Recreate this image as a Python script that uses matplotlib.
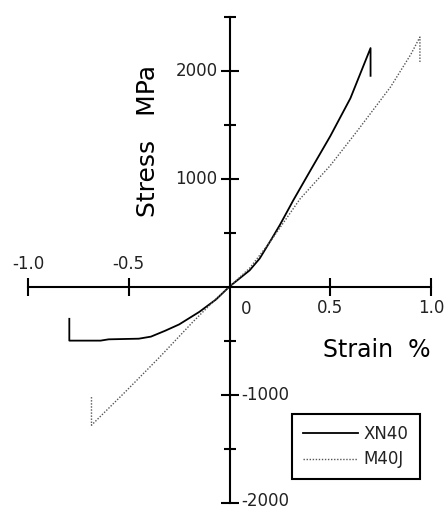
"""Stress-strain curves of XN40 and M40J fibres, axes crossing at the origin."""

import matplotlib

matplotlib.use("Agg")
import matplotlib.pyplot as plt
from matplotlib.ticker import FixedLocator

# strain (%) / stress (MPa)
xn40_strain = [-0.795, -0.795, -0.64, -0.60, -0.45, -0.39, -0.32, -0.25, -0.15, -0.067, 0.0,
               0.05, 0.10, 0.15, 0.21, 0.25, 0.317, 0.40, 0.50, 0.60, 0.70, 0.70]
xn40_stress = [-299, -501, -501, -489, -483, -464, -410, -351, -235, -120, 0,
               75, 150, 260, 444, 570, 800, 1070, 1392, 1743, 2208, 1951]

m40j_strain = [-0.685, -0.685, -0.517, -0.35, -0.183, -0.07, 0.0,
               0.10, 0.20, 0.35, 0.50, 0.633, 0.80, 0.90, 0.945, 0.945]
m40j_stress = [-1024, -1284, -975, -660, -330, -120, 0,
               170, 410, 811, 1120, 1438, 1850, 2150, 2310, 2064]

x_tick_values = [-1.0, -0.5, 0.5, 1.0]
x_tick_labels = ["-1.0", "-0.5", "0.5", "1.0"]
y_major_values = [-2000, -1000, 1000, 2000]
y_major_labels = ["-2000", "-1000", "1000", "2000"]
y_minor_values = [-1500, -500, 500, 1500, 2500]

FONT = "DejaVu Sans"
TEXT_COLOR = "#222222"

fig = plt.figure(figsize=(4.44, 5.09), dpi=100)
ax = fig.add_axes([0, 0, 1, 1])
ax.set_xlim(-1.139, 1.0645)
ax.set_ylim(-2060, 2653)

ax.plot(xn40_strain, xn40_stress, color="black", lw=1.3, label="XN40")
ax.plot(m40j_strain, m40j_stress, color="#555555", lw=1.0, dashes=(1.0, 1.2), label="M40J")

# axes through the origin
for side in ("top", "right"):
    ax.spines[side].set_visible(False)
ax.spines["left"].set_position(("data", 0))
ax.spines["bottom"].set_position(("data", 0))
ax.spines["left"].set_bounds(-2000, 2500)
ax.spines["bottom"].set_bounds(-1.0, 1.0)
for side in ("left", "bottom"):
    ax.spines[side].set_linewidth(1.5)
    ax.spines[side].set_color("black")

ax.xaxis.set_major_locator(FixedLocator(x_tick_values))
ax.yaxis.set_major_locator(FixedLocator(y_major_values))
ax.yaxis.set_minor_locator(FixedLocator(y_minor_values))
ax.tick_params(which="major", direction="inout", length=13, width=1.5, color="black",
               labelleft=False, labelbottom=False)
ax.tick_params(which="minor", axis="y", direction="inout", length=9, width=1.5, color="black")

# tick labels: negatives above / left, positives below / right
for val, lab in zip(x_tick_values, x_tick_labels):
    dy = 23 if val < 0 else -21
    ax.annotate(lab, (val, 0), xytext=(0, dy), textcoords="offset pixels",
                ha="center", va="center", fontsize=12, family=FONT, color=TEXT_COLOR)
ax.annotate("0", (0, 0), xytext=(17, -22), textcoords="offset pixels",
            ha="center", va="center", fontsize=12, family=FONT, color=TEXT_COLOR)
for val, lab in zip(y_major_values, y_major_labels):
    if val > 0:
        ax.annotate(lab, (0, val), xytext=(-12, 0), textcoords="offset pixels",
                    ha="right", va="center", fontsize=12, family=FONT, color=TEXT_COLOR)
    else:
        dy = 2 if val == -2000 else 0
        ax.annotate(lab, (0, val), xytext=(12, dy), textcoords="offset pixels",
                    ha="left", va="center", fontsize=12, family=FONT, color=TEXT_COLOR)

ax.annotate("Strain  %", (323, 509 - 357), xycoords="figure pixels",
            ha="left", va="baseline", fontsize=17, family=FONT, color="black")
ax.annotate("Stress   MPa", (155, 509 - 141), xycoords="figure pixels",
            ha="center", va="baseline", rotation=90, rotation_mode="anchor",
            fontsize=18, family=FONT, color="black")

leg = ax.legend(loc="upper left", bbox_to_anchor=(292 / 444, 1 - 414 / 509),
                borderaxespad=0, frameon=True, fancybox=False, framealpha=1,
                prop={"family": FONT, "size": 12}, handlelength=3.3, handletextpad=0.36,
                borderpad=0.65, labelspacing=0.45)
leg.get_frame().set_edgecolor("black")
leg.get_frame().set_linewidth(1.5)
for txt in leg.get_texts():
    txt.set_color(TEXT_COLOR)

fig.savefig("out.png", dpi=100)
